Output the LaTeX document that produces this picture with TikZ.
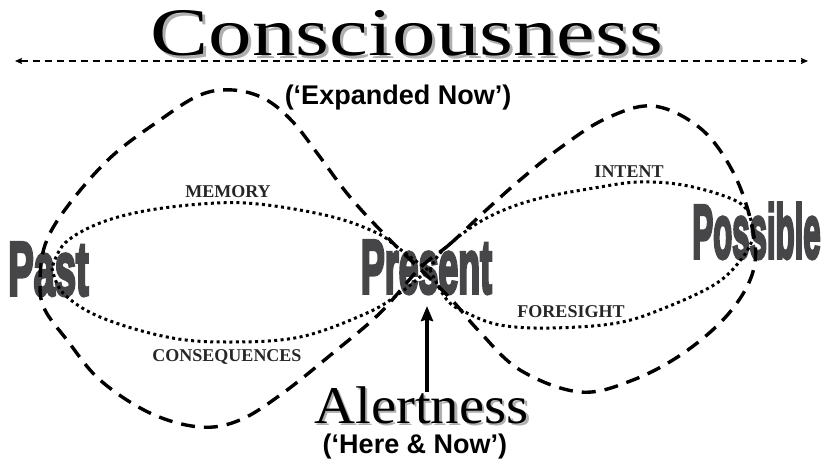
\documentclass[tikz,border=0pt]{standalone}
\usepackage{fontspec}
\usepackage{graphicx}
\setmainfont{Liberation Serif}
\setsansfont{Liberation Sans}
\newfontfamily\heavyfont{Liberation Sans}[BoldFeatures={FakeBold=5}]
\usetikzlibrary{arrows.meta}
\definecolor{WordGray}{RGB}{70,70,72}
\definecolor{ShadeGray}{RGB}{175,175,175}

\begin{document}
\begin{tikzpicture}[x=1pt, y=-1pt,
          title/.style={inner sep=0pt, anchor=base, font=\fontsize{68}{68}\selectfont},
          subt/.style={inner sep=0pt, anchor=base, font=\sffamily\bfseries\fontsize{27}{27}\selectfont},
          word/.style={inner sep=0pt, anchor=base, text=WordGray,
                       font=\heavyfont\bfseries\fontsize{76}{76}\selectfont},
          tag/.style={inner sep=0pt, anchor=base, font=\bfseries\fontsize{18}{18}\selectfont, text=black!85},
          loop/.style={line width=3.4pt, dash pattern=on 14pt off 9pt},
          lens/.style={line width=3pt, dash pattern=on 3pt off 3.4pt},
          arr/.style={-{Stealth[length=15pt, width=12pt, inset=1.5pt]}, line width=3.4pt},
          axis/.style={{Stealth[length=7pt, width=6pt, inset=1pt]}-{Stealth[length=7pt, width=6pt, inset=1pt]},
                       line width=1.3pt, dash pattern=on 7pt off 5pt}
        ]
        \useasboundingbox (0,0) rectangle (826,468);

        % headings with drop shadow
        \node[title, text=ShadeGray] (cons-sh) at (410,59) {\scalebox{1.28}[1]{Consciousness}};
        \node[title]                 (cons)    at (407,56) {\scalebox{1.28}[1]{Consciousness}};
        \node[subt] (expnow) at (398,104) {(‘Expanded Now’)};

        \node[title, text=ShadeGray, font=\fontsize{53}{53}\selectfont] (alert-sh) at (424,425.5)
              {\scalebox{1.07}[1]{Alertness}};
        \node[title, font=\fontsize{53}{53}\selectfont] (alert) at (421.5,423)
              {\scalebox{1.07}[1]{Alertness}};
        \node[subt] (herenow) at (415,453) {(‘Here \& Now’)};

        \node[word] (past)     at (48.5,295)  {\scalebox{.5}[1]{Past}};
        \node[word] (present)  at (426.5,293) {\scalebox{.47}[1]{Present}};
        \node[word] (possible) at (756.5,258) {\scalebox{.41}[1]{Possible}};

        \coordinate (lend) at (15,61);
        \coordinate (rend) at (808,61);
        \draw[axis] (lend) -- (rend);

        % big figure eight
        \draw[loop] plot[smooth cycle, tension=0.6] coordinates {
              (420,268) (450,244) (483,213) (520,180) (560,148) (605,119) (653,106)
              (700,128) (732,170) (751,222) (754,268) (730,312) (685,352) (633,380)
              (580,392) (520,370) (478,330) (448,296) (390,240) (350,197) (320,157)
              (293,122) (265,99) (233,90) (200,95) (160,120) (110,158) (67,207)
              (45,245) (40,285) (45,310) (67,340) (100,380) (150,413) (200,427)
              (240,420) (283,393) (333,353) (380,313)};

        % the two lenses
        \draw[lens] plot[smooth, tension=0.6] coordinates {
              (428,270) (397,247) (377,233) (333,217) (267,205) (217,203)
              (150,210) (100,223) (65,243) (52,268)};
        \draw[lens] plot[smooth, tension=0.6] coordinates {
              (52,268) (63,293) (100,317) (167,337) (227,342) (300,337)
              (367,313) (400,293) (428,270)};
        \draw[lens] plot[smooth, tension=0.6] coordinates {
              (430,270) (443,250) (483,220) (533,200) (600,187) (640,182)
              (683,185) (727,197) (747,210) (754,236)};
        \draw[lens] plot[smooth, tension=0.6] coordinates {
              (754,236) (743,257) (717,283) (667,307) (617,323) (550,328)
              (500,325) (467,313) (447,300) (430,270)};

        \node[tag] (memory)  at (228,197) {MEMORY};
        \node[tag] (conseq)  at (227,361) {CONSEQUENCES};
        \node[tag] (intent)  at (629,177) {INTENT};
        \node[tag] (foresee) at (571,317) {FORESIGHT};

        \coordinate (alert-top) at (427,392);
        \coordinate (pres-foot) at (427,306);
        \draw[arr] (alert-top) -- (pres-foot);
      \end{tikzpicture}
\end{document}
